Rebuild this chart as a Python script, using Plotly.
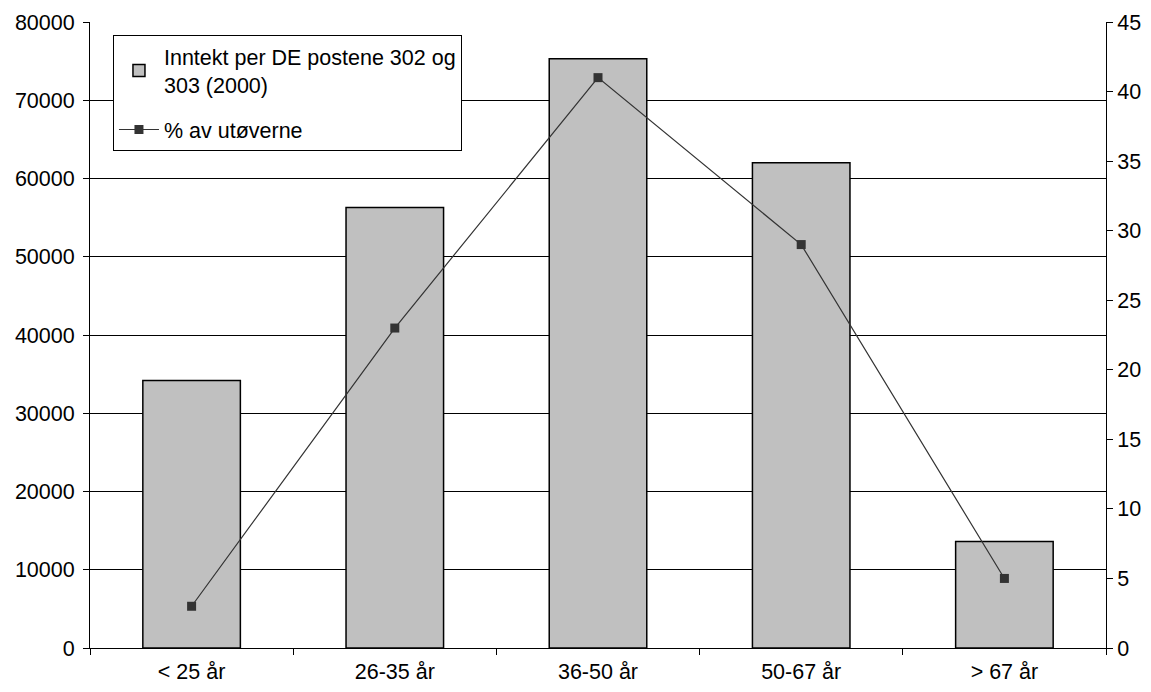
import plotly.graph_objects as go

categories = ["< 25 år", "26-35 år", "36-50 år", "50-67 år", "> 67 år"]
income = [34200, 56300, 75300, 62000, 13600]
percent = [3, 23, 41, 29, 5]

bar_name = "Inntekt per DE postene 302 og<br>303 (2000)"
line_name = "% av utøverne"

fig = go.Figure()
fig.add_trace(go.Bar(
    x=categories, y=income, name=bar_name, legendgroup="g1",
    marker=dict(color="#c0c0c0", line=dict(color="#000000", width=1.5)),
    yaxis="y",
))
fig.add_trace(go.Scatter(
    x=categories, y=percent, name=line_name, mode="lines+markers", legendgroup="g2",
    line=dict(color="#333333", width=1.2),
    marker=dict(symbol="square", size=9, color="#333333"),
    yaxis="y2",
))

font = dict(family="Liberation Sans, Arial, sans-serif", size=21.5, color="#000000")

fig.update_layout(
    width=1151, height=692,
    margin=dict(l=90, r=45, t=22, b=44, autoexpand=False),
    paper_bgcolor="white", plot_bgcolor="white",
    font=font,
    bargap=0.52,
    showlegend=True,
    legend=dict(
        x=0.0226, y=0.979, xanchor="left", yanchor="top",
        bordercolor="#000000", borderwidth=1, bgcolor="white",
        font=dict(family="Liberation Sans, Arial, sans-serif", size=21.5),
        tracegroupgap=14, itemwidth=40,
    ),
    xaxis=dict(
        type="category", tickson="boundaries", ticks="outside", ticklen=6,
        tickcolor="#000", showline=True, linecolor="#000", linewidth=1,
        showgrid=False, tickfont=font, ticklabelstandoff=4, automargin=False,
    ),
    yaxis=dict(
        range=[0, 80000], dtick=10000, tick0=0, tickformat="d",
        ticks="outside", ticklen=6, ticklabelstandoff=4, automargin=False,
        tickcolor="#000", showline=True, linecolor="#000", linewidth=1,
        showgrid=True, gridcolor="#000000", gridwidth=1, zeroline=False,
        tickfont=font,
    ),
    yaxis2=dict(
        range=[0, 45], dtick=5, tick0=0, overlaying="y", side="right",
        ticks="outside", ticklen=6, tickcolor="#000", showline=True,
        linecolor="#000", linewidth=1, showgrid=False, zeroline=False,
        tickfont=font, automargin=False,
    ),
)

fig.write_html("out.html")
